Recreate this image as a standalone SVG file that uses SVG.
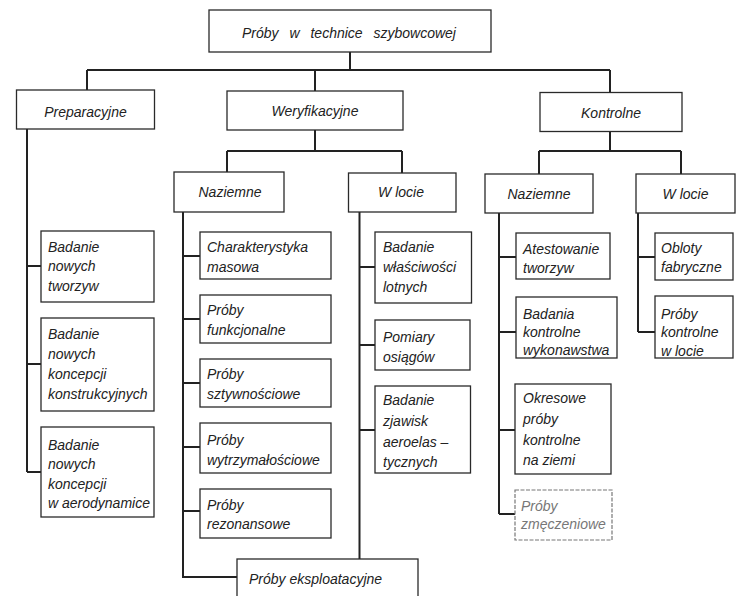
<svg xmlns="http://www.w3.org/2000/svg" width="745" height="596" viewBox="0 0 745 596">
<style>
.b{fill:#fff;stroke:#2a2a2a;stroke-width:1.3}
.f{fill:#fff;stroke:#777;stroke-width:1.2;stroke-dasharray:4 1.5}
.t{font-family:"Liberation Sans",Arial,sans-serif;font-style:italic;font-size:14px;fill:#222}
.c{text-anchor:middle}
.g{fill:#777}
#connectors path{fill:none;stroke:#222;stroke-width:2}
</style>
<rect width="745" height="596" fill="#fff"/>
<g id="connectors">
<path d="M350 52V70M87 70H610M87 70V90M315 70V91M610 70V92.5"/>
<path d="M27 129V472M27 266H41M27 364H41M27 472H41"/>
<path d="M315 130V151M227 151H402M227 151V172M402 151V173"/>
<path d="M183 212V577H237M183 256H200M183 319H200M183 383H200M183 447H200M183 511H200"/>
<path d="M359.5 212V559M359.5 267H375M359.5 345H375M359.5 430H375"/>
<path d="M610 131.5V151M539 151H681M539 151V174M681 151V174"/>
<path d="M499 213V514M499 257H516M499 332H516M499 430H515M499 514H515"/>
<path d="M638 213V332M638 257H655M638 332H655"/>
</g>
<g id="root"><rect class="b" x="209" y="10" width="282" height="42"/><text class="t c" x="349" y="38" word-spacing="7">Próby w technice szybowcowej</text></g>
<g id="preparacyjne"><rect class="b" x="16.5" y="90" width="138" height="39"/><text class="t c" x="85.5" y="117">Preparacyjne</text></g>
<g id="weryfikacyjne"><rect class="b" x="227" y="91" width="176" height="39"/><text class="t c" x="315" y="116">Weryfikacyjne</text></g>
<g id="kontrolne"><rect class="b" x="540" y="92.5" width="142" height="39"/><text class="t c" x="611" y="117.5">Kontrolne</text></g>

<g id="p1"><rect class="b" x="41" y="231" width="113" height="71"/><text class="t" x="48" y="251.5">Badanie<tspan x="48" y="271">nowych</tspan><tspan x="48" y="291">tworzyw</tspan></text></g>
<g id="p2"><rect class="b" x="41" y="318" width="113" height="93"/><text class="t" x="48" y="339">Badanie<tspan x="48" y="358.5">nowych</tspan><tspan x="48" y="379">koncepcji</tspan><tspan x="48" y="398.5">konstrukcyjnych</tspan></text></g>
<g id="p3"><rect class="b" x="41" y="427" width="113" height="90"/><text class="t" x="48" y="450">Badanie<tspan x="48" y="469">nowych</tspan><tspan x="48" y="489">koncepcji</tspan><tspan x="48" y="508">w aerodynamice</tspan></text></g>

<g id="w-naziemne"><rect class="b" x="174" y="172" width="110" height="40"/><text class="t c" x="230" y="197">Naziemne</text></g>
<g id="w-wlocie"><rect class="b" x="348.5" y="173" width="107.5" height="39"/><text class="t c" x="401" y="197">W locie</text></g>

<g id="wn1"><rect class="b" x="200" y="232" width="131" height="47"/><text class="t" x="207" y="251.5">Charakterystyka<tspan x="207" y="271.5">masowa</tspan></text></g>
<g id="wn2"><rect class="b" x="200" y="295" width="131" height="48"/><text class="t" x="207" y="315">Próby<tspan x="207" y="335">funkcjonalne</tspan></text></g>
<g id="wn3"><rect class="b" x="200" y="359" width="131" height="48"/><text class="t" x="207" y="379">Próby<tspan x="207" y="399">sztywnościowe</tspan></text></g>
<g id="wn4"><rect class="b" x="200" y="423" width="131" height="50"/><text class="t" x="207" y="445">Próby<tspan x="207" y="465">wytrzymałościowe</tspan></text></g>
<g id="wn5"><rect class="b" x="200" y="489" width="131" height="49"/><text class="t" x="207" y="510">Próby<tspan x="207" y="529">rezonansowe</tspan></text></g>

<g id="wl1"><rect class="b" x="375" y="232" width="96.5" height="71"/><text class="t" x="383" y="251.5">Badanie<tspan x="383" y="271.5">właściwości</tspan><tspan x="383" y="291.5">lotnych</tspan></text></g>
<g id="wl2"><rect class="b" x="375" y="320" width="95" height="50"/><text class="t" x="383" y="341.5">Pomiary<tspan x="383" y="361.5">osiągów</tspan></text></g>
<g id="wl3"><rect class="b" x="375" y="386" width="95.5" height="87"/><text class="t" x="383" y="405">Badanie<tspan x="383" y="426">zjawisk</tspan><tspan x="383" y="447">aeroelas –</tspan><tspan x="383" y="466.5">tycznych</tspan></text></g>

<g id="eksploatacyjne"><rect class="b" x="237" y="559" width="181" height="42"/><text class="t" x="249" y="584">Próby eksploatacyjne</text></g>

<g id="k-naziemne"><rect class="b" x="485" y="174" width="108" height="39"/><text class="t c" x="539" y="198.5">Naziemne</text></g>
<g id="k-wlocie"><rect class="b" x="636" y="174" width="99" height="39"/><text class="t c" x="685.5" y="198.5">W locie</text></g>

<g id="kn1"><rect class="b" x="516" y="233" width="94" height="46"/><text class="t" x="523" y="254">Atestowanie<tspan x="523" y="273">tworzyw</tspan></text></g>
<g id="kn2"><rect class="b" x="516" y="297" width="101" height="61"/><text class="t" x="523" y="318.5">Badania<tspan x="523" y="337">kontrolne</tspan><tspan x="523" y="355">wykonawstwa</tspan></text></g>
<g id="kn3"><rect class="b" x="515" y="384" width="96" height="90"/><text class="t" x="523" y="403">Okresowe<tspan x="523" y="424">próby</tspan><tspan x="523" y="445">kontrolne</tspan><tspan x="523" y="465">na ziemi</tspan></text></g>
<g id="kn4"><rect class="f" x="515" y="490" width="97" height="50"/><text class="t g" x="521" y="511">Próby<tspan x="521" y="529">zmęczeniowe</tspan></text></g>

<g id="kl1"><rect class="b" x="655" y="233" width="78" height="47"/><text class="t" x="661" y="253">Obloty<tspan x="661" y="272">fabryczne</tspan></text></g>
<g id="kl2"><rect class="b" x="655" y="296" width="78" height="62"/><text class="t" x="661" y="318.5">Próby<tspan x="661" y="337">kontrolne</tspan><tspan x="661" y="356">w locie</tspan></text></g>
</svg>
